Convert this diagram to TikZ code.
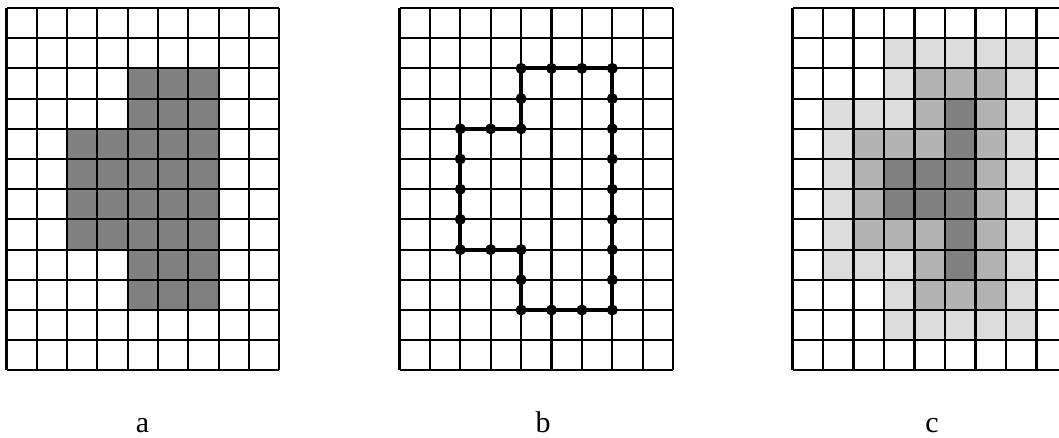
\documentclass[tikz,border=0pt]{standalone}
\usepackage{fontspec}
\setmainfont{Liberation Serif}
\definecolor{lev0}{HTML}{FFFFFF}
\definecolor{lev1}{HTML}{DCDCDC}
\definecolor{lev2}{HTML}{B3B3B3}
\definecolor{lev3}{HTML}{808080}
\tikzset{
  gridline/.style={line width=2.1pt, black},
  outline/.style={line width=4pt, black, line join=miter},
  vertex/.style={fill=black},
  lbl/.style={font=\fontsize{30}{36}\selectfont, anchor=base, inner sep=0pt}
}
\newcommand{\mygrid}{%
  \foreach \i in {0,...,9} {\draw[gridline] (\i,0) -- (\i,12);}
  \foreach \j in {0,...,12} {\draw[gridline] (0,\j) -- (9,\j);}
}
\begin{document}
\begin{tikzpicture}[x=1pt,y=-1pt]
\useasboundingbox (0,0) rectangle (1059,437);
\clip (0,0) rectangle (1059,437);
% ---------- grid a ----------
\begin{scope}[shift={(6.5,8)}]
\begin{scope}[x=30.3pt,y=-30.2pt]
  \foreach [count=\r from 0] \rowvals in {
    {0,0,0,0,0,0,0,0,0},{0,0,0,0,0,0,0,0,0},
    {0,0,0,0,3,3,3,0,0},{0,0,0,0,3,3,3,0,0},
    {0,0,3,3,3,3,3,0,0},{0,0,3,3,3,3,3,0,0},
    {0,0,3,3,3,3,3,0,0},{0,0,3,3,3,3,3,0,0},
    {0,0,0,0,3,3,3,0,0},{0,0,0,0,3,3,3,0,0},
    {0,0,0,0,0,0,0,0,0},{0,0,0,0,0,0,0,0,0}} {
    \foreach [count=\c from 0] \v in \rowvals {
      \fill[lev\v] (\c,\r) rectangle ++(1,1);
    }
  }
  \mygrid
\end{scope}
\end{scope}
% ---------- grid b ----------
\begin{scope}[shift={(399.5,8)}]
\begin{scope}[x=30.4pt,y=-30.2pt]
  \mygrid
  \draw[outline] (4,2) -- (7,2) -- (7,10) -- (4,10) -- (4,8) -- (2,8) -- (2,4) -- (4,4) -- cycle;
  \foreach \p in {(4,2),(5,2),(6,2),(7,2),(7,3),(7,4),(7,5),(7,6),(7,7),(7,8),(7,9),(7,10),
                  (6,10),(5,10),(4,10),(4,9),(4,8),(3,8),(2,8),(2,7),(2,6),(2,5),(2,4),
                  (3,4),(4,4),(4,3)} {
    \fill[vertex] \p circle[radius=5.5pt];
  }
\end{scope}
\end{scope}
% ---------- grid c ----------
\begin{scope}[shift={(792.5,8)}]
\begin{scope}[x=30.5pt,y=-30.2pt]
  \foreach [count=\r from 0] \rowvals in {
    {0,0,0,0,0,0,0,0,0},
    {0,0,0,1,1,1,1,1,0},
    {0,0,0,1,2,2,2,1,0},
    {0,1,1,1,2,3,2,1,0},
    {0,1,2,2,2,3,2,1,0},
    {0,1,2,3,3,3,2,1,0},
    {0,1,2,3,3,3,2,1,0},
    {0,1,2,2,2,3,2,1,0},
    {0,1,1,1,2,3,2,1,0},
    {0,0,0,1,2,2,2,1,0},
    {0,0,0,1,1,1,1,1,0},
    {0,0,0,0,0,0,0,0,0}} {
    \foreach [count=\c from 0] \v in \rowvals {
      \fill[lev\v] (\c,\r) rectangle ++(1,1);
    }
  }
  \mygrid
\end{scope}
\end{scope}
% ---------- labels ----------
\node[lbl] (la) at (142.5,432) {a};
\node[lbl] (lb) at (543,432) {b};
\node[lbl] (lc) at (932,432) {c};
\end{tikzpicture}
\end{document}
